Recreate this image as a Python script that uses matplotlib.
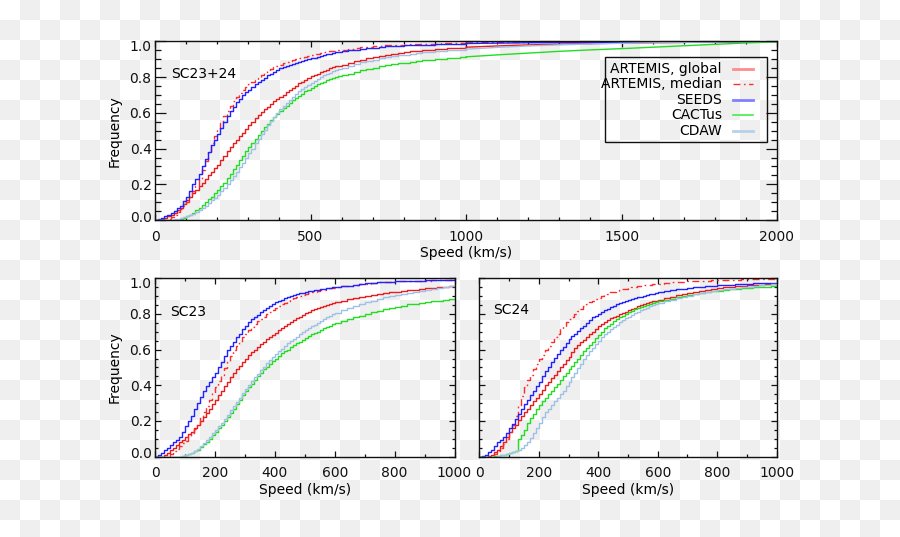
import numpy as np
import matplotlib
matplotlib.use('Agg')
import matplotlib.pyplot as plt
from matplotlib.patches import Rectangle
from matplotlib.ticker import MultipleLocator, FixedLocator, FormatStrFormatter
from matplotlib.transforms import ScaledTranslation

# speed bins (km/s): 10 km/s up to 600, 20 km/s up to 1000, then the long tail (top panel)
speed = list(range(0, 600, 10)) + list(range(600, 1001, 20))
speed_tail = [1100, 1200, 1300, 1400, 1500, 1600, 1700, 1800, 1900, 2000]

# ---- SC23+24 (top panel), cumulative frequency
all_global = [0, 0, .003, .01, .02, .03, .04, .055, .07, .09, .11, .13, .15, .17, .19, .21, .23,
              .25, .27, .29, .31, .335, .36, .385, .41, .43, .45, .47, .49, .51, .53, .55, .57,
              .588, .605, .62, .635, .65, .665, .678, .69, .703, .715, .728, .74, .753, .765,
              .775, .785, .795, .805, .813, .82, .828, .835, .843, .85, .855, .86, .865,
              .87, .88, .89, .898, .906, .913, .92, .926, .931, .936, .94, .944, .948, .951,
              .954, .957, .96, .962, .964, .966, .968]
all_global_tail = [.975, .981, .985, .988, .991, .993, .995, .997, .998, 1.0]
all_median = [0, 0, 0, 0, .005, .015, .03, .045, .06, .08, .10, .13, .16, .19, .23, .28, .33,
              .38, .43, .47, .51, .545, .58, .61, .64, .665, .69, .71, .73, .745, .76, .773,
              .785, .798, .81, .823, .835, .845, .855, .863, .87, .878, .885, .89, .895, .90,
              .905, .91, .915, .92, .925, .928, .932, .936, .94, .943, .945, .948, .95, .953,
              .955, .96, .964, .968, .971, .974, .976, .978, .98, .982, .983, .984, .985, .986,
              .987, .988, .989, .99, .99, .991, .992]
all_median_tail = [.994, .995, .996, .997, .998, .998, .999, .999, 1.0, 1.0]
all_seeds = [0, .003, .01, .02, .03, .04, .05, .065, .08, .105, .13, .165, .20, .23, .26, .30,
             .34, .38, .42, .45, .48, .515, .55, .58, .61, .635, .66, .68, .70, .715, .73, .745,
             .76, .773, .785, .798, .81, .82, .83, .84, .85, .858, .865, .87, .875, .88, .885,
             .89, .895, .90, .905, .91, .915, .92, .925, .928, .93, .935, .94, .943,
             .945, .95, .955, .96, .963, .966, .969, .972, .974, .976, .978, .98, .981, .982,
             .983, .984, .985, .986, .987, .988, .989]
all_seeds_tail = [.991, .993, .994, .995, .996, .997, .998, .999, .999, 1.0]
all_cactus = [0, 0, 0, 0, 0, 0, 0, 0, .005, .012, .02, .03, .04, .055, .07, .085, .10, .115,
              .13, .15, .17, .19, .21, .235, .26, .285, .31, .335, .36, .385, .41, .433, .455,
              .478, .50, .52, .54, .558, .575, .593, .61, .625, .64, .655, .67, .683, .695,
              .708, .72, .73, .74, .75, .76, .768, .775, .783, .79, .795, .80, .805,
              .81, .82, .83, .838, .846, .853, .86, .866, .872, .877, .882, .886, .89, .894,
              .897, .90, .903, .906, .909, .911, .914]
all_cactus_tail = [.925, .935, .945, .953, .96, .968, .976, .984, .992, .998]
all_cdaw = [0, 0, 0, 0, 0, 0, .005, .008, .01, .015, .02, .027, .035, .045, .055, .067, .08,
            .095, .11, .125, .14, .16, .18, .20, .225, .247, .27, .295, .32, .347, .375, .40,
            .43, .455, .48, .505, .53, .553, .575, .598, .62, .638, .655, .673, .69, .705, .72,
            .733, .745, .758, .77, .78, .79, .80, .81, .818, .825, .833, .84, .846,
            .852, .864, .874, .883, .891, .898, .905, .911, .917, .922, .927, .931, .935, .939,
            .942, .945, .948, .951, .953, .955, .957]
all_cdaw_tail = [.967, .975, .981, .986, .99, .993, .995, .997, .999, 1.0]

# ---- SC23
sc23_global = [0, 0, 0, .01, .02, .035, .05, .065, .08, .095, .11, .125, .14, .16, .18, .20,
               .22, .245, .27, .295, .32, .345, .37, .395, .42, .445, .47, .49, .51, .53, .55,
               .568, .585, .60, .615, .63, .645, .658, .67, .683, .695, .708, .72, .733, .745,
               .755, .765, .775, .785, .795, .805, .813, .82, .827, .833, .84, .845, .85, .855,
               .86,
               .865, .873, .881, .888, .894, .90, .905, .91, .915, .92, .924, .928, .932, .936,
               .94, .943, .946, .949, .952, .955, .958]
sc23_median = [0, 0, 0, 0, .005, .015, .03, .045, .06, .075, .09, .11, .13, .155, .18, .215,
               .25, .285, .32, .355, .39, .425, .46, .495, .53, .563, .595, .62, .645, .668,
               .69, .708, .725, .743, .76, .773, .785, .798, .81, .823, .835, .845, .855, .863,
               .872, .88, .887, .893, .90, .905, .91, .915, .92, .924, .928, .932, .936, .94,
               .943, .946,
               .949, .954, .958, .962, .966, .97, .973, .976, .978, .98, .982, .983, .984, .985,
               .986, .987, .988, .989, .99, .991, .992]
sc23_seeds = [0, .01, .02, .035, .05, .065, .08, .095, .11, .14, .17, .20, .23, .265, .30,
              .335, .37, .395, .42, .445, .47, .50, .53, .563, .595, .62, .645, .668, .69, .713,
              .735, .753, .77, .783, .795, .808, .82, .833, .845, .855, .865, .873, .88, .888,
              .895, .90, .905, .91, .915, .918, .922, .926, .929, .932, .935, .938, .94, .943,
              .946, .948,
              .951, .955, .959, .963, .967, .971, .974, .977, .979, .981, .983, .984, .985, .986,
              .987, .988, .989, .99, .991, .992, .993]
sc23_cactus = [0, 0, 0, 0, 0, 0, 0, 0, 0, .005, .01, .015, .02, .03, .04, .055, .07, .085, .10,
               .12, .14, .16, .18, .20, .22, .245, .27, .295, .32, .345, .37, .39, .41, .43,
               .45, .47, .49, .505, .52, .535, .55, .565, .58, .59, .60, .613, .625, .635, .645,
               .655, .665, .675, .685, .693, .70, .71, .72, .728, .735, .743,
               .75, .76, .77, .78, .79, .80, .81, .818, .826, .834, .84, .847, .853, .858, .863,
               .867, .871, .875, .878, .881, .884]
sc23_cdaw = [0, 0, 0, 0, 0, 0, 0, 0, 0, .005, .01, .015, .02, .033, .045, .06, .075, .093, .11,
             .13, .15, .17, .19, .213, .235, .26, .285, .308, .33, .355, .38, .403, .425, .445,
             .465, .485, .505, .523, .54, .558, .575, .59, .605, .62, .635, .648, .66, .673,
             .685, .698, .71, .72, .73, .74, .75, .76, .77, .78, .79, .798,
             .805, .82, .833, .845, .856, .866, .875, .884, .892, .899, .906, .913, .919, .925,
             .931, .936, .941, .946, .951, .955, .959]

# ---- SC24
sc24_global = [0, 0, 0, .005, .01, .025, .04, .06, .08, .11, .14, .16, .18, .205, .23, .25,
               .27, .29, .31, .33, .35, .375, .40, .42, .44, .46, .48, .50, .52, .54, .56, .585,
               .61, .625, .64, .655, .67, .685, .70, .715, .73, .743, .755, .765, .775, .783,
               .79, .798, .805, .813, .82, .828, .835, .842, .848, .854, .86, .865, .87, .875,
               .88, .888, .896, .904, .911, .918, .924, .93, .935, .94, .944, .948, .952, .955,
               .958, .96, .962, .964, .966, .968, .97]
sc24_median = [0, 0, 0, 0, .005, .015, .03, .05, .07, .10, .14, .18, .23, .29, .34, .39, .43,
               .46, .49, .52, .545, .57, .595, .62, .645, .668, .69, .713, .735, .753, .77,
               .785, .80, .815, .83, .843, .855, .865, .875, .883, .89, .898, .905, .913, .92,
               .925, .93, .934, .938, .942, .945, .949, .952, .955, .958, .96, .962, .964, .966,
               .968,
               .97, .973, .976, .978, .98, .982, .984, .986, .987, .988, .989, .99, .991, .992,
               .993, .993, .994, .994, .995, .995, .996]
sc24_seeds = [0, .005, .01, .025, .04, .06, .08, .095, .11, .135, .16, .185, .21, .24, .27,
              .295, .32, .345, .37, .395, .42, .45, .48, .505, .53, .553, .575, .595, .615,
              .638, .66, .675, .69, .705, .72, .735, .75, .765, .78, .79, .80, .81, .82, .829,
              .838, .846, .853, .86, .866, .872, .878, .883, .888, .893, .897, .901, .905, .909,
              .913, .917,
              .92, .926, .932, .937, .941, .945, .948, .951, .954, .957, .96, .962, .964, .966,
              .968, .97, .971, .972, .973, .974, .975]
sc24_cactus = [0, 0, 0, 0, 0, .003, .005, .008, .01, .015, .02, .025, .03, .10, .12, .15, .19,
               .215, .24, .265, .29, .31, .33, .35, .37, .39, .41, .43, .45, .47, .49, .51, .53,
               .55, .57, .59, .61, .628, .645, .663, .68, .70, .72, .733, .745, .758, .77, .78,
               .79, .80, .81, .818, .825, .833, .84, .846, .852, .857, .862, .866,
               .87, .878, .886, .893, .90, .906, .912, .917, .922, .926, .93, .934, .937, .94,
               .943, .946, .948, .95, .952, .954, .956]
sc24_cdaw = [0, 0, 0, 0, 0, 0, .005, .008, .01, .015, .02, .025, .03, .04, .05, .065, .08,
             .105, .13, .16, .19, .22, .25, .27, .29, .31, .33, .35, .37, .395, .42, .445, .47,
             .495, .52, .545, .57, .59, .61, .63, .65, .668, .685, .70, .715, .728, .74, .753,
             .765, .775, .785, .795, .805, .813, .82, .828, .835, .842, .848, .854,
             .86, .87, .88, .888, .895, .902, .909, .915, .921, .927, .932, .937, .941, .945,
             .949, .953, .957, .96, .963, .966, .969]

names = ['ARTEMIS, global', 'ARTEMIS, median', 'SEEDS', 'CACTus', 'CDAW']
colors = ['#e81c1c', '#ff2a2a', '#2222ff', '#22dd22', '#9fc1e6']
styles = ['-', (0, (5, 2.5, 1.2, 2.5)), '-', '-', '-']
leg_colors = ['#ff8c8c', '#ff3030', '#8080ff', '#44ee44', '#b8d0ec']
leg_widths = [2.0, 1.0, 2.0, 1.2, 2.0]

W, H = 900, 537
fig = plt.figure(figsize=(W / 100, H / 100), dpi=100)

# checkerboard "transparent" background
bg = fig.add_axes([0, 0, 1, 1], zorder=-10)
cells = np.indices((27, 45)).sum(axis=0) % 2
img = np.where(cells[..., None] == 1, 239, 255).repeat(3, axis=2).astype(np.uint8)
bg.imshow(img, extent=(0, 900, 540, 0), interpolation='nearest', aspect='auto')
bg.set_xlim(0, W)
bg.set_ylim(H, 0)
bg.axis('off')


def px_axes(x0, x1, y0, y1):
    return fig.add_axes([x0 / W, 1 - y1 / H, (x1 - x0) / W, (y1 - y0) / H], facecolor='none')


def style_axes(ax, xmax, xmaj, xmin, ylen, xlen, ylabels=True):
    ax.set_xlim(0, xmax)
    ax.set_ylim(0, 1)
    ax.xaxis.set_major_locator(MultipleLocator(xmaj))
    ax.xaxis.set_minor_locator(MultipleLocator(xmin))
    ax.yaxis.set_major_locator(FixedLocator([0, 0.2, 0.4, 0.6, 0.8, 1.0]))
    ax.yaxis.set_minor_locator(MultipleLocator(0.05))
    ax.tick_params(axis='both', which='both', direction='in', top=True, right=True,
                   labelsize=10, width=0.9, colors='#111111')
    ax.tick_params(axis='y', which='major', length=ylen, pad=2.5)
    ax.tick_params(axis='y', which='minor', length=ylen * 0.5)
    ax.tick_params(axis='x', which='major', length=xlen, pad=7)
    ax.tick_params(axis='x', which='minor', length=xlen * 0.6)
    for s in ax.spines.values():
        s.set_linewidth(1.0)
        s.set_color('#111111')
    ax.set_xlabel('Speed (km/s)', fontsize=10, labelpad=2)
    if ylabels:
        ax.yaxis.set_major_formatter(FormatStrFormatter('%.1f'))
        ax.set_ylabel('Frequency', fontsize=10, labelpad=6)
    else:
        ax.set_yticklabels([])


def shift_edge_labels(ax):
    # IDL pushes the end labels (0.0 and 1.0) a little inside the frame
    fig.canvas.draw()
    labels = ax.get_yticklabels()
    labels[0].set_transform(labels[0].get_transform() + ScaledTranslation(0, 0.04, fig.dpi_scale_trans))
    labels[-1].set_transform(labels[-1].get_transform() + ScaledTranslation(0, -0.045, fig.dpi_scale_trans))


def draw_curves(ax, series, tails=None):
    for i, (vals, c, ls) in enumerate(zip(series, colors, styles)):
        ax.plot(speed, vals, color=c, ls=ls, lw=1.0, drawstyle='steps-post')
        if tails is not None:
            ax.plot([speed[-1]] + speed_tail, [vals[-1]] + tails[i], color=c, ls=ls, lw=1.0)


# top panel
ax1 = px_axes(155, 777, 41.5, 220)
draw_curves(ax1, [all_global, all_median, all_seeds, all_cactus, all_cdaw],
            [all_global_tail, all_median_tail, all_seeds_tail, all_cactus_tail, all_cdaw_tail])
style_axes(ax1, 2000, 500, 100, 8, 4)
ax1.text(0.026, 0.82, 'SC23+24', transform=ax1.transAxes, fontsize=10, va='center')

# hand-made legend (IDL style: text right aligned, sample on the right)
ax1.add_patch(Rectangle((0.7227, 0.437), 0.2613, 0.4745, transform=ax1.transAxes,
                        fill=False, lw=1.0, ec='#111111'))
for i, (n, c, ls, lw) in enumerate(zip(names, leg_colors, styles, leg_widths)):
    yy = 0.846 - i * 0.0865
    ax1.text(0.9115, yy, n, transform=ax1.transAxes, ha='right', va='center', fontsize=10)
    ax1.plot([0.929, 0.961], [yy, yy], transform=ax1.transAxes, color=c, ls=ls, lw=lw)

# bottom left panel
ax2 = px_axes(155, 454.5, 278.2, 456.7)
draw_curves(ax2, [sc23_global, sc23_median, sc23_seeds, sc23_cactus, sc23_cdaw])
style_axes(ax2, 1000, 200, 100, 4.5, 4)
ax2.text(0.052, 0.81, 'SC23', transform=ax2.transAxes, fontsize=10, va='center')

# bottom right panel
ax3 = px_axes(479.3, 776.7, 278.2, 456.7)
draw_curves(ax3, [sc24_global, sc24_median, sc24_seeds, sc24_cactus, sc24_cdaw])
style_axes(ax3, 1000, 200, 100, 4.5, 4, ylabels=False)
ax3.text(0.046, 0.82, 'SC24', transform=ax3.transAxes, fontsize=10, va='center')

shift_edge_labels(ax1)
shift_edge_labels(ax2)

fig.savefig('out.png', dpi=100)
